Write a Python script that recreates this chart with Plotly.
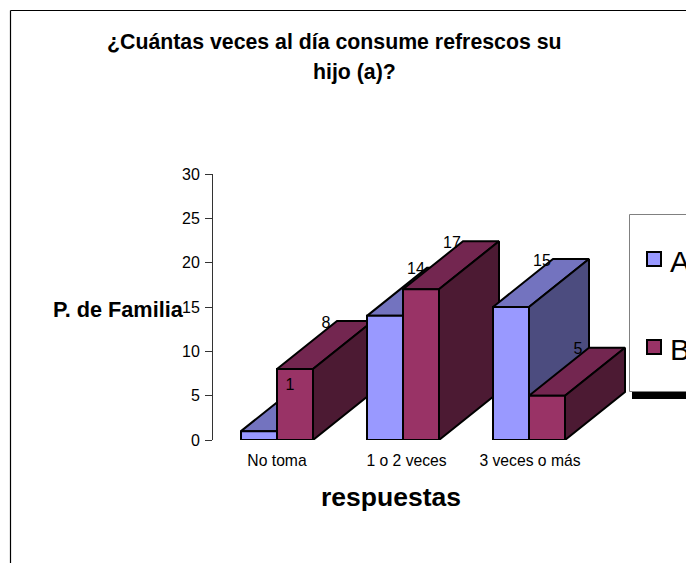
import plotly.graph_objects as go

# Survey results
categories = ["No toma", "1 o 2 veces", "3 veces o más"]
series_names = ["A", "B"]
values_a = [1, 14, 15]
values_b = [8, 17, 5]
y_ticks = [0, 5, 10, 15, 20, 25, 30]

# Colours of each bar face: front, top, side
faces_a = ("#9999FF", "#7373BF", "#4C4C7F")
faces_b = ("#993366", "#732650", "#4C1A33")

WIDTH, HEIGHT = 686, 563
AXIS_LEFT, AXIS_TOP, AXIS_BOTTOM = 213, 174, 440
FONT = "Liberation Sans, Arial, sans-serif"

# Axis scales in pixels per data unit
PX_PER_X = 126
PX_PER_Y = (AXIS_BOTTOM - AXIS_TOP) / 30
BAR_W = 36 / PX_PER_X
DEPTH_X = 60 / PX_PER_X
DEPTH_Y = 48 / PX_PER_Y
FIRST_CENTRE_PX = 277


def px(x):
    return x / WIDTH


def py(y):
    return 1 - y / HEIGHT


def polygon(xs, ys, color):
    return go.Scatter(
        x=xs + xs[:1], y=ys + ys[:1], mode="lines", fill="toself",
        fillcolor=color, line=dict(color="black", width=2),
        hoverinfo="skip", showlegend=False,
    )


def box_faces(x0, value, colors):
    """Front, top and side of one extruded bar, back faces first."""
    x1 = x0 + BAR_W
    front, top, side = colors
    return [
        polygon([x0, x1, x1 + DEPTH_X, x0 + DEPTH_X],
                [value, value, value + DEPTH_Y, value + DEPTH_Y], top),
        polygon([x1, x1 + DEPTH_X, x1 + DEPTH_X, x1],
                [0, DEPTH_Y, value + DEPTH_Y, value], side),
        polygon([x0, x1, x1, x0], [0, 0, value, value], front),
    ]


fig = go.Figure()
label_x, label_y, label_text = [], [], []
positions = list(range(1, len(categories) + 1))
LABEL_SHIFT_X = 11 / PX_PER_X
LABEL_SHIFT_Y = 2.5 / PX_PER_Y

for pos, a, b in zip(positions, values_a, values_b):
    for x0, value, colors in ((pos - BAR_W, a, faces_a), (pos, b, faces_b)):
        for trace in box_faces(x0, value, colors):
            fig.add_trace(trace)
        label_x.append(x0 + DEPTH_X - LABEL_SHIFT_X)
        label_y.append(value + DEPTH_Y - LABEL_SHIFT_Y)
        label_text.append(str(value))

fig.add_trace(go.Scatter(
    x=label_x, y=label_y, text=label_text, mode="text",
    textposition="middle center",
    textfont=dict(family=FONT, size=16, color="black"),
    hoverinfo="skip", showlegend=False,
))

# Page frame and legend box
line_black = dict(color="black", width=1.2)
shapes = [
    dict(type="line", xref="paper", yref="paper", x0=px(10.5), x1=px(10.5),
         y0=py(HEIGHT), y1=py(10.5), line=line_black),
    dict(type="line", xref="paper", yref="paper", x0=px(10.5), x1=px(WIDTH),
         y0=py(10.5), y1=py(10.5), line=line_black),
    dict(type="rect", xref="paper", yref="paper", x0=px(632), x1=px(WIDTH + 5),
         y0=py(399), y1=py(392), fillcolor="black", line=dict(width=0)),
    dict(type="rect", xref="paper", yref="paper", x0=px(629.5), x1=px(WIDTH + 5),
         y0=py(391.5), y1=py(214.5), fillcolor="white",
         line=dict(color="#808080", width=1)),
]
for top_px, color in ((252, faces_a[0]), (340, faces_b[0])):
    shapes.append(dict(
        type="rect", xref="paper", yref="paper", x0=px(647), x1=px(661),
        y0=py(top_px + 14), y1=py(top_px), fillcolor=color,
        line=dict(color="black", width=2),
    ))


def note(text, x, y, size, bold=False, xanchor="center"):
    return dict(
        text=f"<b>{text}</b>" if bold else text, xref="paper", yref="paper",
        x=px(x), y=py(y), xanchor=xanchor, yanchor="middle", showarrow=False,
        font=dict(family=FONT, size=size, color="black"),
    )


annotations = [
    note("¿Cuántas veces al día consume refrescos su", 334.5, 42, 21.3, True),
    note("hijo (a)?", 354, 72, 21.3, True),
    note("P. de Familia", 118.5, 309, 21.7, True),
    note("respuestas", 391, 497, 26.5, True),
    note(series_names[0], 668, 261, 30, xanchor="left"),
    note(series_names[1], 668, 349, 30, xanchor="left"),
]

# Category labels sit slightly off their group centres
label_nudges = [0, 3.5 / PX_PER_X, 1 / PX_PER_X]

fig.update_layout(
    width=WIDTH, height=HEIGHT,
    margin=dict(l=0, r=0, t=0, b=0, autoexpand=False),
    paper_bgcolor="white", plot_bgcolor="rgba(0,0,0,0)",
    shapes=shapes, annotations=annotations,
    font=dict(family=FONT, color="black"),
    xaxis=dict(
        domain=[px(AXIS_LEFT), 1],
        range=[1 - (FIRST_CENTRE_PX - AXIS_LEFT) / PX_PER_X,
               1 + (WIDTH - FIRST_CENTRE_PX) / PX_PER_X],
        tickmode="array",
        tickvals=[p + n for p, n in zip(positions, label_nudges)],
        ticktext=categories,
        ticks="", showgrid=False, showline=False, zeroline=False,
        tickfont=dict(family=FONT, size=15.7), ticklabelstandoff=9,
    ),
    yaxis=dict(
        domain=[py(AXIS_BOTTOM), py(AXIS_TOP)], range=[0, 30],
        tickmode="array", tickvals=y_ticks, ticks="outside", ticklen=7,
        tickcolor="#333333", tickwidth=1, showgrid=False, zeroline=False,
        showline=True, linecolor="#333333", linewidth=1,
        tickfont=dict(family=FONT, size=16), ticklabelstandoff=2,
    ),
)

fig.write_html("out.html", config=dict(displayModeBar=False))
